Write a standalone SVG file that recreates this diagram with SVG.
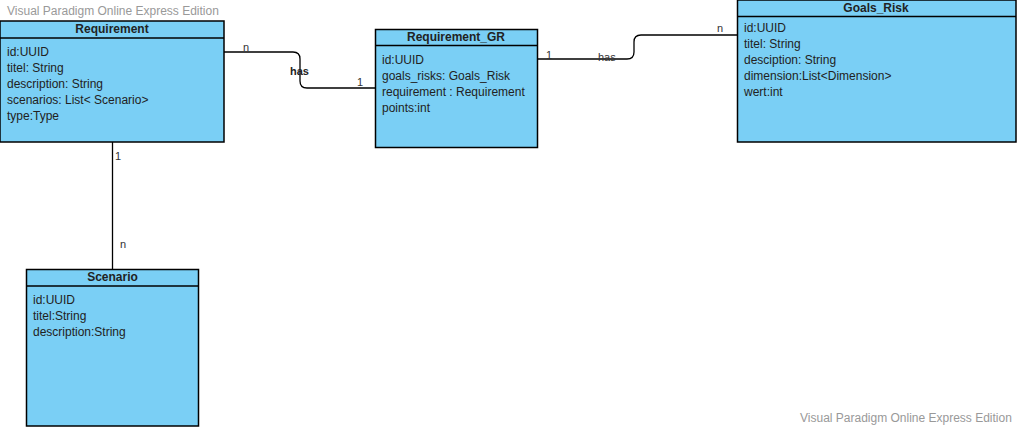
<svg xmlns="http://www.w3.org/2000/svg" width="1017" height="427" viewBox="0 0 1017 427">
<style>
.box{fill:#7acff5;stroke:#000;stroke-width:1.5}
.sep{stroke:#000;stroke-width:1.5}
.t{font-family:"Liberation Sans",Arial,sans-serif;font-size:12px;fill:#222}
.h{font-family:"Liberation Sans",Arial,sans-serif;font-size:12px;font-weight:bold;fill:#222;text-anchor:middle}
.wm{font-family:"Liberation Sans",Arial,sans-serif;font-size:12px;fill:#999}
.c{fill:none;stroke:#000;stroke-width:1.3}
.l{font-family:"Liberation Sans",Arial,sans-serif;font-size:11px;fill:#333}
</style>
<rect width="1017" height="427" fill="#fff"/>
<text class="wm" x="7" y="15">Visual Paradigm Online Express Edition</text>
<text class="wm" x="800" y="422">Visual Paradigm Online Express Edition</text>
<g id="connectors">
<path class="c" d="M112.5,142 V269"/>
<path class="c" d="M224,52 H293 Q300,52 300,59 V81 Q300,88 307,88 H375"/>
<path class="c" d="M537,59 H627 Q634,59 634,52 V42 Q634,35 641,35 H737"/>
<text class="l" x="115" y="160">1</text>
<text class="l" x="120" y="248">n</text>
<text class="l" x="243" y="51">n</text>
<text class="l" x="357" y="86">1</text>
<text class="l" x="290" y="75" style="font-weight:bold;fill:#222">has</text>
<text class="l" x="546" y="59">1</text>
<text class="l" x="598" y="61">has</text>
<text class="l" x="717" y="32">n</text>
</g>
<g id="requirement">
<rect class="box" x="0" y="21" width="224" height="121"/>
<line class="sep" x1="0" y1="38" x2="224" y2="38"/>
<text class="h" x="112" y="33">Requirement</text>
<text class="t" x="7" y="56">id:UUID</text>
<text class="t" x="7" y="72">titel: String</text>
<text class="t" x="7" y="88">description: String</text>
<text class="t" x="7" y="104">scenarios: List&lt; Scenario&gt;</text>
<text class="t" x="7" y="120">type:Type</text>
</g>
<g id="requirement_gr">
<rect class="box" x="375.5" y="29.5" width="162" height="118"/>
<line class="sep" x1="375.5" y1="45.5" x2="537.5" y2="45.5"/>
<text class="h" x="456" y="41">Requirement_GR</text>
<text class="t" x="382" y="64">id:UUID</text>
<text class="t" x="382" y="80">goals_risks: Goals_Risk</text>
<text class="t" x="382" y="96">requirement : Requirement</text>
<text class="t" x="382" y="112">points:int</text>
</g>
<g id="goals_risk">
<rect class="box" x="737.5" y="0" width="278.5" height="142"/>
<line class="sep" x1="737.5" y1="16.5" x2="1016" y2="16.5"/>
<text class="h" x="876" y="12">Goals_Risk</text>
<text class="t" x="744" y="32">id:UUID</text>
<text class="t" x="744" y="48">titel: String</text>
<text class="t" x="744" y="64">desciption: String</text>
<text class="t" x="744" y="80">dimension:List&lt;Dimension&gt;</text>
<text class="t" x="744" y="96">wert:int</text>
</g>
<g id="scenario">
<rect class="box" x="26.5" y="269.5" width="172" height="156.5"/>
<line class="sep" x1="26.5" y1="286" x2="198.5" y2="286"/>
<text class="h" x="112.5" y="281">Scenario</text>
<text class="t" x="33" y="304">id:UUID</text>
<text class="t" x="33" y="320">titel:String</text>
<text class="t" x="33" y="336">description:String</text>
</g>
</svg>
